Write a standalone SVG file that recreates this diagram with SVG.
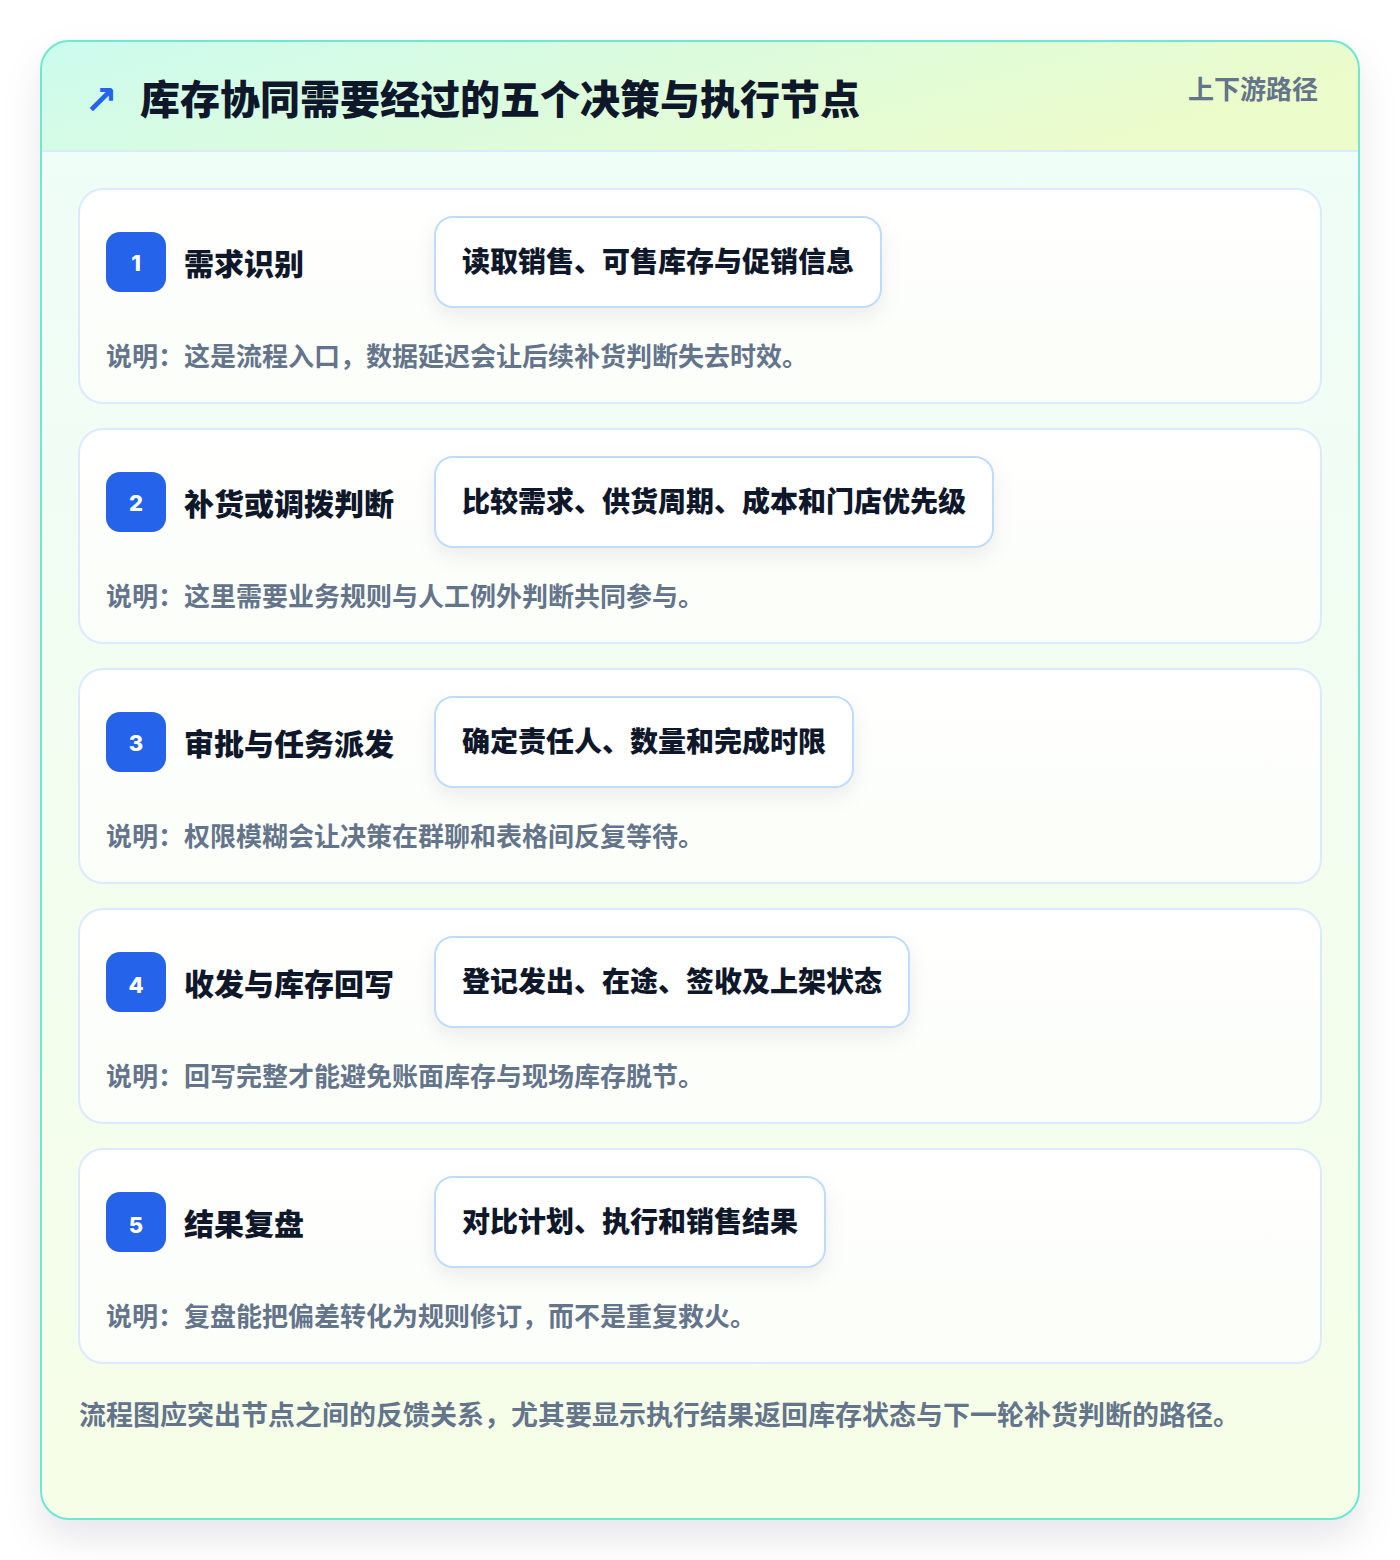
<svg xmlns="http://www.w3.org/2000/svg" width="1400" height="1560" viewBox="0 0 1400 1560">
<defs>
<linearGradient id="hdr" x1="0" y1="0" x2="1" y2="0.3">
<stop offset="0" stop-color="#ccfbef"/>
<stop offset="1" stop-color="#ecfccb"/>
</linearGradient>
<linearGradient id="body" x1="0" y1="0" x2="0" y2="1">
<stop offset="0" stop-color="#effdf9"/>
<stop offset="1" stop-color="#f6fee7"/>
</linearGradient>
<linearGradient id="cardfill" x1="0" y1="0" x2="0" y2="1">
<stop offset="0" stop-color="#ffffff"/>
<stop offset="1" stop-color="#fbfef8"/>
</linearGradient>
<clipPath id="outerClip"><rect x="41" y="41" width="1318" height="1478" rx="28"/></clipPath>
<filter id="outerShadow" x="-10%" y="-10%" width="120%" height="120%">
<feDropShadow dx="0" dy="18" stdDeviation="18" flood-color="#0f172a" flood-opacity="0.10"/>
</filter>
<filter id="pillShadow" x="-20%" y="-40%" width="140%" height="180%">
<feDropShadow dx="0" dy="8" stdDeviation="10" flood-color="#0f172a" flood-opacity="0.07"/>
</filter>
</defs>
<style>
text{font-family:"Noto Sans CJK SC","Noto Sans",sans-serif;font-weight:700}
.card{fill:url(#cardfill);stroke:#dbeafe;stroke-width:2}
.badge{fill:#2563eb}
.num{fill:#ffffff;font-size:22px;font-family:"Inter","Noto Sans",sans-serif;font-weight:800}
.title{fill:#0f172a;font-size:30px;font-weight:800}
.pill{fill:#ffffff;stroke:#bfdbfe;stroke-width:2}
.pilltext{fill:#0f172a;font-size:28px;font-weight:800}
.desc{fill:#64748b;font-size:26px}
</style>
<rect width="1400" height="1560" fill="#ffffff"/>
<g id="frame">
<rect x="41" y="41" width="1318" height="1478" rx="28" fill="url(#body)" filter="url(#outerShadow)"/>
<g clip-path="url(#outerClip)">
<rect x="41" y="41" width="1318" height="110" fill="url(#hdr)"/>
<line x1="41" y1="151" x2="1359" y2="151" stroke="#dbeafe" stroke-width="2"/>
</g>
<rect x="41" y="41" width="1318" height="1478" rx="28" fill="none" stroke="#6ee7d3" stroke-width="2"/>
</g>
<g id="header">
<text x="84" y="114" fill="#2563eb" style="font-size:40px;font-family:'DejaVu Sans',sans-serif;font-weight:700">↗</text>
<text x="140" y="114" fill="#0f172a" style="font-size:40px;font-weight:800">库存协同需要经过的五个决策与执行节点</text>
<text x="1318" y="99" fill="#64748b" text-anchor="end" style="font-size:26px">上下游路径</text>
</g>
<g id="connectors"></g>
<g id="node1">
<rect class="card" x="79" y="189" width="1242" height="214" rx="24"/>
<rect class="badge" x="106" y="232" width="60" height="60" rx="14"/>
<text class="num" x="136" y="271" text-anchor="middle">1</text>
<text class="title" x="184" y="275">需求识别</text>
<rect class="pill" x="435" y="217" width="446" height="90" rx="18" filter="url(#pillShadow)"/>
<text class="pilltext" x="462" y="272">读取销售、可售库存与促销信息</text>
<text class="desc" x="106" y="366">说明：这是流程入口，数据延迟会让后续补货判断失去时效。</text>
</g>
<g id="node2">
<rect class="card" x="79" y="429" width="1242" height="214" rx="24"/>
<rect class="badge" x="106" y="472" width="60" height="60" rx="14"/>
<text class="num" x="136" y="511" text-anchor="middle">2</text>
<text class="title" x="184" y="515">补货或调拨判断</text>
<rect class="pill" x="435" y="457" width="558" height="90" rx="18" filter="url(#pillShadow)"/>
<text class="pilltext" x="462" y="512">比较需求、供货周期、成本和门店优先级</text>
<text class="desc" x="106" y="606">说明：这里需要业务规则与人工例外判断共同参与。</text>
</g>
<g id="node3">
<rect class="card" x="79" y="669" width="1242" height="214" rx="24"/>
<rect class="badge" x="106" y="712" width="60" height="60" rx="14"/>
<text class="num" x="136" y="751" text-anchor="middle">3</text>
<text class="title" x="184" y="755">审批与任务派发</text>
<rect class="pill" x="435" y="697" width="418" height="90" rx="18" filter="url(#pillShadow)"/>
<text class="pilltext" x="462" y="752">确定责任人、数量和完成时限</text>
<text class="desc" x="106" y="846">说明：权限模糊会让决策在群聊和表格间反复等待。</text>
</g>
<g id="node4">
<rect class="card" x="79" y="909" width="1242" height="214" rx="24"/>
<rect class="badge" x="106" y="952" width="60" height="60" rx="14"/>
<text class="num" x="136" y="993" text-anchor="middle">4</text>
<text class="title" x="184" y="995">收发与库存回写</text>
<rect class="pill" x="435" y="937" width="474" height="90" rx="18" filter="url(#pillShadow)"/>
<text class="pilltext" x="462" y="992">登记发出、在途、签收及上架状态</text>
<text class="desc" x="106" y="1086">说明：回写完整才能避免账面库存与现场库存脱节。</text>
</g>
<g id="node5">
<rect class="card" x="79" y="1149" width="1242" height="214" rx="24"/>
<rect class="badge" x="106" y="1192" width="60" height="60" rx="14"/>
<text class="num" x="136" y="1233" text-anchor="middle">5</text>
<text class="title" x="184" y="1235">结果复盘</text>
<rect class="pill" x="435" y="1177" width="390" height="90" rx="18" filter="url(#pillShadow)"/>
<text class="pilltext" x="462" y="1232">对比计划、执行和销售结果</text>
<text class="desc" x="106" y="1326">说明：复盘能把偏差转化为规则修订，而不是重复救火。</text>
</g>
<g id="footer">
<text x="79" y="1425" fill="#64748b" style="font-size:27px">流程图应突出节点之间的反馈关系，尤其要显示执行结果返回库存状态与下一轮补货判断的路径。</text>
</g>
</svg>
